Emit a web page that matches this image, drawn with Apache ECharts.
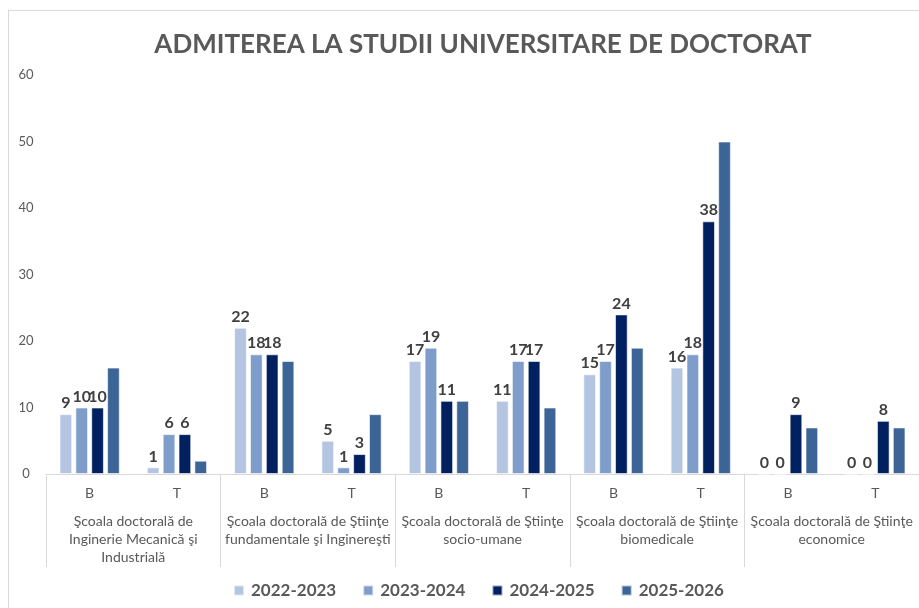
<!DOCTYPE html>
<html>
<head>
<meta charset="utf-8">
<script src="https://cdn.jsdelivr.net/npm/echarts@6/dist/echarts.min.js"></script>
<style>
  body { margin: 0; background: #fff; }
  #frame { position: absolute; left: 8px; top: 10px; width: 930px; height: 620px;
           border-left: 1px solid #d9d9d9; border-top: 1px solid #d9d9d9; }
  #main { position: absolute; left: 0; top: 0; width: 919px; height: 608px; }
</style>
</head>
<body>
<div id="frame"></div>
<div id="main"></div>
<script>
// sub categories (B = buget, T = taxa) and the five doctoral schools
var subCats = ["B", "T", "B", "T", "B", "T", "B", "T", "B", "T"];
var schools = [
  "Şcoala doctorală de\nInginerie Mecanică şi\nIndustrială",
  "Şcoala doctorală de Ştiinţe\nfundamentale şi Inginereşti",
  "Şcoala doctorală de Ştiinţe\nsocio-umane",
  "Şcoala doctorală de Ştiinţe\nbiomedicale",
  "Şcoala doctorală de Ştiinţe\neconomice"
];
var years = ["2022-2023", "2023-2024", "2024-2025", "2025-2026"];
var colors = ["#b4c5e2", "#7f9dca", "#002060", "#3c6496"];

var v2022 = [9, 1, 22, 5, 17, 11, 15, 16, 0, 0];
var v2023 = [10, 6, 18, 1, 19, 17, 17, 18, 0, 0];
var v2024 = [10, 6, 18, 3, 11, 17, 24, 38, 9, 8];
var v2025 = [16, 2, 17, 9, 11, 10, 19, 50, 7, 7];
var allValues = [v2022, v2023, v2024, v2025];

var font = "Lato, 'Liberation Sans', sans-serif";
var chart = echarts.init(document.getElementById('main'));

var series = [];
for (var i = 0; i < years.length; i++) {
  series.push({
    name: years[i],
    type: 'bar',
    data: allValues[i],
    barGap: '25%',
    barCategoryGap: '31%',
    itemStyle: { color: colors[i], borderColor: 'rgba(255,255,255,0.6)', borderWidth: 1 },
    label: {
      show: i < 3, //last year has no labels in the original
      position: 'top',
      distance: 3,
      color: '#404040',
      fontWeight: 'bold',
      fontSize: 16,
      fontFamily: font
    }
  });
}

chart.setOption({
  animation: false,
  title: {
    text: 'ADMITEREA LA STUDII UNIVERSITARE DE DOCTORAT',
    left: 478,
    textAlign: 'center',
    top: 27,
    textStyle: { color: '#595959', fontSize: 26, fontWeight: 'bold', fontFamily: font }
  },
  legend: {
    data: years,
    bottom: 4,
    left: 228,
    itemWidth: 10,
    itemHeight: 10,
    itemGap: 26,
    icon: 'rect',
    textStyle: { color: '#595959', fontSize: 17, fontWeight: 'bold', fontFamily: font, padding: [0, 0, 0, 2] }
  },
  grid: { left: 46, right: -2, top: 75, bottom: 134 },
  xAxis: [{
    type: 'category',
    data: subCats,
    position: 'bottom',
    axisLine: { lineStyle: { color: '#d9d9d9' } },
    axisTick: { show: false },
    axisLabel: { color: '#595959', fontSize: 14, margin: 12, fontFamily: font }
  }, {
    type: 'category',
    data: schools,
    position: 'bottom',
    axisLine: { show: false },
    axisTick: { show: true, length: 93, lineStyle: { color: '#d9d9d9' } },
    axisLabel: { color: '#595959', fontSize: 14, margin: 38, lineHeight: 18, interval: 0, fontFamily: font }
  }],
  yAxis: {
    type: 'value',
    min: 0,
    max: 60,
    interval: 10,
    splitLine: { show: false },
    axisLine: { show: false },
    axisLabel: { color: '#595959', fontSize: 13, align: 'center', margin: 20, fontFamily: font }
  },
  series: series
});
</script>
</body>
</html>
